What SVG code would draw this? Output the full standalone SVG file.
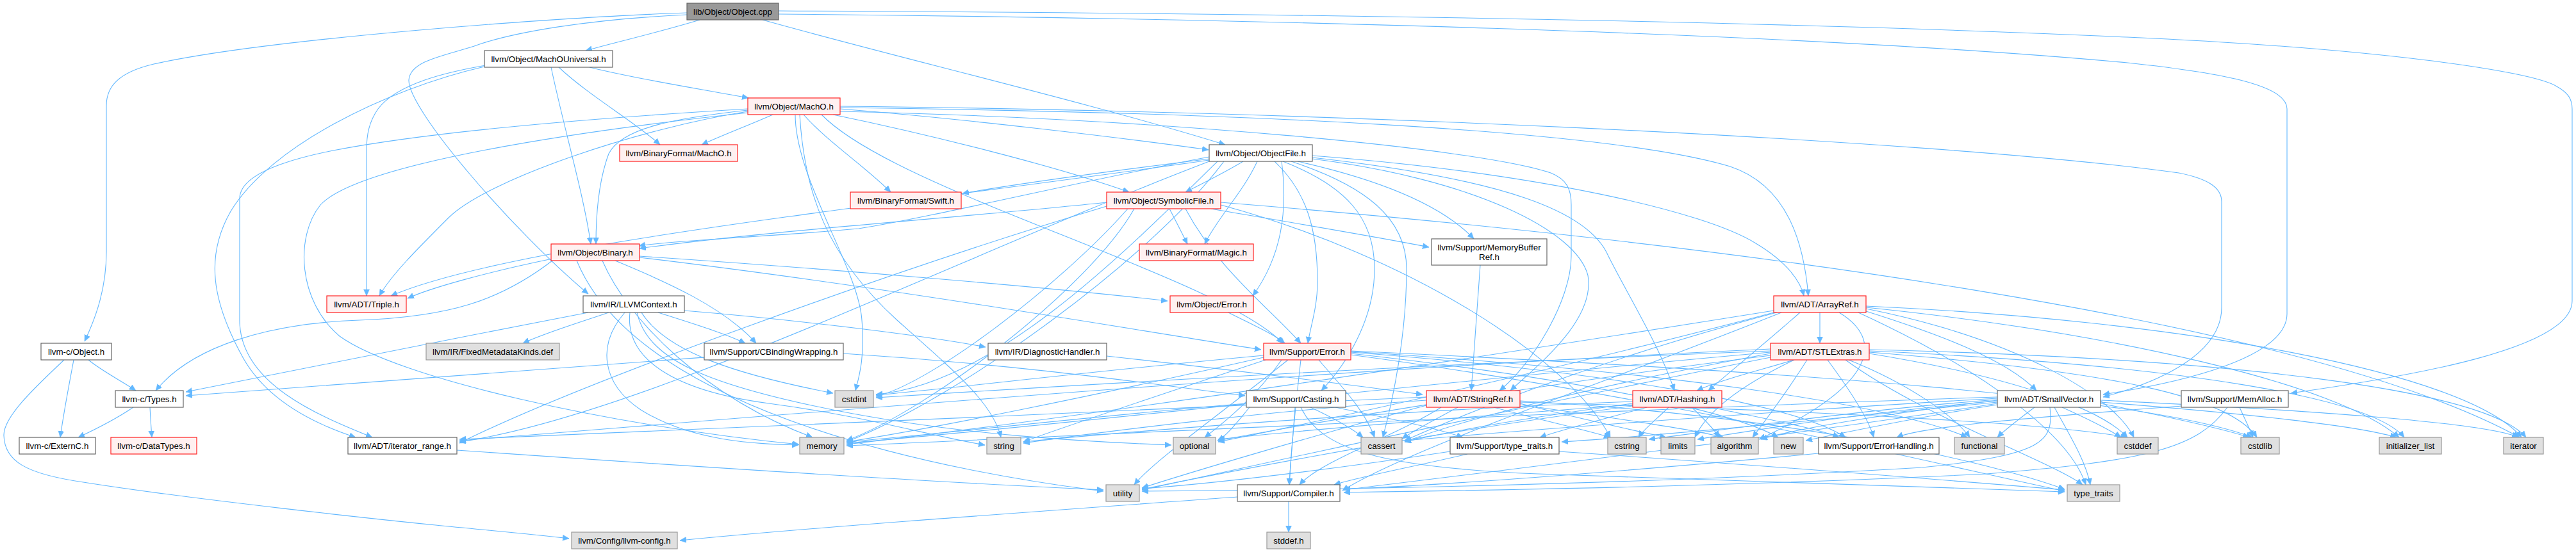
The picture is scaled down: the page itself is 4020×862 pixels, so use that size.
<svg xmlns="http://www.w3.org/2000/svg" width="4020" height="862" viewBox="0 0 4020 862">
<style>
#edges path{fill:none;stroke:#63b8ff;stroke-width:1.1;marker-end:url(#ah)}
.n rect{stroke-width:1.2}
.g rect{fill:#e0e0e0;stroke:#999999}
.w rect{fill:#ffffff;stroke:#666666}
.r rect{fill:#fff0f0;stroke:#ff2222}
.root rect{fill:#999999;stroke:#666666}
.n text{font-family:"Liberation Sans",Arial,sans-serif;font-size:13.33px;text-anchor:middle;fill:#000}
</style>
<defs>
<marker id="ah" markerWidth="11" markerHeight="10" refX="10" refY="4.5" orient="auto" markerUnits="userSpaceOnUse"><path d="M0,0 L10,4.5 L0,9 z" fill="#63b8ff" stroke="#63b8ff" stroke-width="0.5"/></marker>
</defs>
<rect width="4020" height="862" fill="#ffffff"/>
<g id="edges">
<path d="M1072,20 C880,26 420,60 240,100 C185,113 166,135 166,165 L166,393 C166,450 150,495 132,533"/>
<path d="M1072,23 C920,30 800,50 740,72 C690,88 640,95 638,125 C636,170 800,360 918,459"/>
<path d="M1092,31 C1030,50 960,66 914,79"/>
<path d="M1190,31 C1400,90 1700,160 1912,226"/>
<path d="M1215,22 C1900,28 2800,50 3320,98 C3480,115 3569,135 3569,170 L3569,490 C3569,560 3400,598 3282,616"/>
<path d="M1215,17 C1900,20 2700,30 3320,58 C3700,75 3950,110 3990,135 C4008,145 4014,155 4014,170 L4014,470 C4014,545 3760,588 3575,614"/>
<path d="M920,105 C1000,125 1100,140 1168,153"/>
<path d="M872,105 C920,150 990,190 1030,226"/>
<path d="M860,105 C880,200 910,300 922,381"/>
<path d="M758,102 C700,112 620,130 590,170 C576,190 572,210 572,235 L572,462"/>
<path d="M756,104 C600,140 420,230 360,330 C320,400 330,470 380,560 C420,630 500,665 555,683"/>
<path d="M1206,179 C1170,195 1130,210 1095,226"/>
<path d="M1167,172 C1050,185 970,200 950,240 C935,280 930,330 930,381"/>
<path d="M1167,174 C1000,200 760,280 700,340 C650,390 610,430 592,462"/>
<path d="M1167,170 C1000,180 700,200 520,235 C420,255 374,280 374,310 L374,500 C374,600 500,650 581,683"/>
<path d="M1167,176 C900,205 560,255 500,320 C460,370 465,470 530,525 C620,590 950,665 1247,694"/>
<path d="M1254,179 C1290,220 1350,260 1390,300"/>
<path d="M1311,170 C1500,185 1750,215 1886,234"/>
<path d="M1300,179 C1450,210 1650,260 1762,300"/>
<path d="M1311,168 C1900,175 2500,200 2700,260 C2790,290 2815,380 2822,462"/>
<path d="M1311,166 C2000,172 3000,215 3400,270 C3450,280 3467,295 3467,315 L3467,480 C3467,560 3350,602 3282,620"/>
<path d="M1311,174 C1800,185 2300,230 2420,270 C2445,280 2452,295 2452,320 L2452,400 C2452,470 2390,570 2340,610"/>
<path d="M1282,179 C1400,300 1900,430 2002,536"/>
<path d="M1241,179 C1241,280 1340,420 1345,500 C1350,560 1340,590 1335,610"/>
<path d="M1248,179 C1255,300 1290,400 1400,500 C1490,580 1550,630 1562,683"/>
<path d="M1940,252 C1910,270 1880,285 1850,300"/>
<path d="M1962,252 C1940,300 1900,340 1880,381"/>
<path d="M1888,248 C1750,265 1600,285 1502,302"/>
<path d="M1887,245 C1700,280 1450,340 1340,357 C1200,370 1050,375 997,384"/>
<path d="M2025,252 C2150,280 2250,320 2300,373"/>
<path d="M1887,250 C1400,320 800,380 610,462"/>
<path d="M2000,252 C2010,330 2000,400 1955,462"/>
<path d="M2048,243 C2400,270 2660,330 2740,380 C2790,410 2810,440 2815,462"/>
<path d="M1989,252 C2040,300 2056,360 2056,440 C2056,480 2045,510 2041,536"/>
<path d="M2002,252 C2100,290 2145,340 2145,420 C2145,500 2100,570 2062,610"/>
<path d="M2048,248 C2300,280 2460,360 2478,430 C2490,500 2400,570 2357,610"/>
<path d="M2048,246 C2350,280 2480,330 2510,400 C2540,460 2590,540 2613,610"/>
<path d="M1900,252 C1750,400 1550,600 1367,616"/>
<path d="M1887,252 C1500,400 1000,650 717,690"/>
<path d="M1910,252 C1800,400 1500,620 1321,690"/>
<path d="M2015,252 C2130,290 2195,340 2195,420 C2195,520 2175,620 2158,683"/>
<path d="M1825,326 C1835,345 1845,365 1853,381"/>
<path d="M1727,316 C1500,340 1200,360 998,388"/>
<path d="M1850,326 C1900,420 1980,480 2030,536"/>
<path d="M1890,326 C2000,345 2150,370 2230,386"/>
<path d="M1727,322 C1400,420 900,600 717,692"/>
<path d="M1760,326 C1650,450 1450,600 1367,619"/>
<path d="M1905,320 C2200,400 2450,560 2513,683"/>
<path d="M1905,316 C2700,380 3600,500 3932,683"/>
<path d="M1770,326 C1700,450 1450,640 1321,688"/>
<path d="M862,407 C780,470 700,495 560,500 C420,505 300,540 243,610"/>
<path d="M862,404 C760,425 670,450 636,466"/>
<path d="M998,400 C1300,420 1650,450 1822,470"/>
<path d="M960,407 C1040,440 1130,480 1180,536"/>
<path d="M998,402 C1400,450 1800,520 1968,546"/>
<path d="M940,407 C980,500 1100,620 1268,683"/>
<path d="M900,407 C1000,650 1500,740 1722,767"/>
<path d="M2310,414 C2305,480 2300,560 2296,610"/>
<path d="M115,562 C108,600 100,640 94,683"/>
<path d="M138,562 C160,580 190,595 212,610"/>
<path d="M100,562 C60,600 5,650 6,680 C7,720 40,740 130,753 C300,780 600,812 680,820 C760,828 830,834 888,841"/>
<path d="M950,488 C900,505 850,520 816,536"/>
<path d="M1027,488 C1080,505 1130,520 1163,536"/>
<path d="M1068,485 C1250,500 1450,525 1538,542"/>
<path d="M918,488 C700,530 450,580 290,612"/>
<path d="M1001,488 C1040,550 1150,585 1300,614"/>
<path d="M975,488 C930,540 940,600 1000,640 C1080,690 1180,693 1246,695"/>
<path d="M983,488 C975,560 1050,610 1200,630 C1350,650 1450,680 1537,695"/>
<path d="M994,488 C1010,560 1100,600 1300,640 C1500,680 1700,690 1828,695"/>
<path d="M1917,488 C1950,505 1985,520 2005,536"/>
<path d="M2840,488 L2840,536"/>
<path d="M2912,486 C3020,520 3130,560 3178,610"/>
<path d="M2809,488 C2750,540 2700,580 2666,610"/>
<path d="M2870,488 C2940,530 2930,600 2745,686"/>
<path d="M2780,488 C2500,600 2200,700 2095,766"/>
<path d="M2780,486 C2500,560 2300,640 2192,688"/>
<path d="M2912,482 C3150,530 3300,620 3330,683"/>
<path d="M2912,480 C3300,520 3650,600 3744,683"/>
<path d="M2912,478 C3400,500 3850,580 3935,683"/>
<path d="M2768,485 C2300,560 1700,650 1321,694"/>
<path d="M2768,488 C2500,560 2100,650 1901,690"/>
<path d="M2900,488 C3100,580 3230,680 3255,757"/>
<path d="M208,636 C180,655 150,670 122,683"/>
<path d="M234,636 C235,655 236,670 237,683"/>
<path d="M1099,558 C800,580 500,600 290,618"/>
<path d="M1316,552 C1600,570 1800,600 1943,618"/>
<path d="M1727,556 C1900,575 2100,600 2220,616"/>
<path d="M2058,562 C2090,600 2130,640 2145,683"/>
<path d="M2030,562 C2020,650 2015,700 2012,757"/>
<path d="M2108,550 C2500,580 2800,630 2880,683"/>
<path d="M1972,555 C1700,580 1500,605 1367,617"/>
<path d="M2108,548 C2800,580 3350,620 3515,683"/>
<path d="M2108,549 C2600,580 2950,630 3070,683"/>
<path d="M1972,558 C1700,620 1450,670 1321,690"/>
<path d="M2108,552 C2450,590 2700,640 2775,683"/>
<path d="M2000,562 C1960,620 1910,660 1880,683"/>
<path d="M1975,562 C1800,620 1650,670 1597,690"/>
<path d="M2108,554 C2600,620 3000,720 3222,767"/>
<path d="M2010,562 C1900,650 1800,720 1770,757"/>
<path d="M2800,562 C2740,580 2680,595 2648,610"/>
<path d="M2852,562 C2880,600 2915,650 2924,683"/>
<path d="M2820,562 C2790,610 2760,650 2735,683"/>
<path d="M2885,562 C2980,600 3050,650 3074,683"/>
<path d="M2763,552 C2500,600 2300,650 2192,690"/>
<path d="M2917,552 C3150,590 3280,640 3320,683"/>
<path d="M2763,548 C2200,570 1700,600 1367,621"/>
<path d="M2917,550 C3300,580 3480,620 3522,683"/>
<path d="M2917,548 C3400,570 3700,620 3752,683"/>
<path d="M2917,546 C3500,560 3880,610 3942,683"/>
<path d="M2800,562 C2700,610 2660,650 2645,683"/>
<path d="M2763,550 C2200,600 1600,670 1321,692"/>
<path d="M2763,555 C2400,600 2050,660 1901,688"/>
<path d="M2880,562 C3000,650 3200,720 3250,757"/>
<path d="M2763,558 C2300,650 1900,740 1782,765"/>
<path d="M2763,545 C2000,580 1200,650 717,688"/>
<path d="M2021,636 C2018,680 2014,720 2012,757"/>
<path d="M2084,636 C2150,650 2230,665 2283,683"/>
<path d="M2045,636 C2075,650 2105,665 2127,683"/>
<path d="M1945,630 C1700,650 1450,680 1321,690"/>
<path d="M1950,636 C1930,660 1915,680 1900,688"/>
<path d="M2030,636 C2060,700 2150,730 2400,740 C2800,755 3100,765 3222,768"/>
<path d="M2275,636 C2240,655 2210,670 2188,685"/>
<path d="M2331,636 C2400,655 2470,670 2513,683"/>
<path d="M2372,630 C2450,650 2540,670 2600,683"/>
<path d="M2249,636 C2180,680 2060,720 2028,757"/>
<path d="M2372,632 C2500,650 2640,670 2690,683"/>
<path d="M2372,628 C2800,640 3200,660 3320,683"/>
<path d="M2226,625 C2000,640 1750,670 1597,692"/>
<path d="M2372,626 C2800,650 3100,720 3222,764"/>
<path d="M2226,633 C2050,680 1850,740 1782,762"/>
<path d="M2226,620 C1800,640 1100,670 717,686"/>
<path d="M2670,636 C2760,655 2840,670 2870,683"/>
<path d="M2640,636 C2660,655 2675,670 2683,683"/>
<path d="M2604,636 C2585,655 2565,670 2557,683"/>
<path d="M2570,636 C2500,655 2440,670 2403,683"/>
<path d="M2548,630 C2400,650 2280,670 2192,690"/>
<path d="M2548,632 C2300,650 2050,670 1901,686"/>
<path d="M2548,627 C2200,640 1800,670 1597,690"/>
<path d="M2548,634 C2200,680 1900,740 1782,764"/>
<path d="M3175,636 C3150,655 3130,670 3117,683"/>
<path d="M3218,636 C3260,655 3290,670 3310,683"/>
<path d="M3206,636 C3230,680 3255,720 3262,757"/>
<path d="M3278,630 C3380,650 3470,670 3510,683"/>
<path d="M3278,628 C3500,645 3680,665 3740,683"/>
<path d="M3278,625 C3600,640 3880,660 3930,683"/>
<path d="M3117,630 C2800,680 2300,740 2097,765"/>
<path d="M3117,628 C2900,650 2600,680 2437,690"/>
<path d="M3117,625 C2950,645 2800,670 2748,686"/>
<path d="M3117,622 C2800,640 2400,670 2192,688"/>
<path d="M3117,624 C2900,640 2700,670 2573,686"/>
<path d="M3117,626 C2900,645 2750,670 2649,686"/>
<path d="M3117,620 C2500,640 1700,680 1321,696"/>
<path d="M3117,632 C3000,650 2880,675 2818,688"/>
<path d="M3199,636 C3205,690 3190,710 3000,730 C2500,760 2000,765 1782,767"/>
<path d="M3495,636 C3502,652 3510,668 3516,683"/>
<path d="M3404,634 C3200,650 3000,665 2960,683"/>
<path d="M3476,636 C3430,700 3350,720 3100,740 C2700,760 2300,766 2097,769"/>
<path d="M713,703 C1100,730 1500,755 1722,765"/>
<path d="M2290,709 C2200,730 2120,745 2082,757"/>
<path d="M2433,705 C2800,730 3100,755 3222,765"/>
<path d="M2263,705 C2100,730 1900,755 1782,763"/>
<path d="M2838,708 C2600,730 2300,755 2097,764"/>
<path d="M2011,783 L2011,831"/>
<path d="M1931,776 C1600,800 1250,825 1061,844"/>
</g>
<g id="n0" class="n root"><rect x="1072" y="5" width="143" height="26"/><text x="1143.5" y="23">lib/Object/Object.cpp</text></g>
<g id="n1" class="n w"><rect x="756" y="79" width="200" height="26"/><text x="856" y="97">llvm/Object/MachOUniversal.h</text></g>
<g id="n2" class="n r"><rect x="1167" y="153" width="144" height="26"/><text x="1239" y="171">llvm/Object/MachO.h</text></g>
<g id="n3" class="n r"><rect x="967" y="226" width="184" height="26"/><text x="1059" y="244">llvm/BinaryFormat/MachO.h</text></g>
<g id="n4" class="n w"><rect x="1887" y="226" width="161" height="26"/><text x="1967.5" y="244">llvm/Object/ObjectFile.h</text></g>
<g id="n5" class="n r"><rect x="1327" y="300" width="173" height="26"/><text x="1413.5" y="318">llvm/BinaryFormat/Swift.h</text></g>
<g id="n6" class="n r"><rect x="1727" y="300" width="178" height="26"/><text x="1816" y="318">llvm/Object/SymbolicFile.h</text></g>
<g id="n7" class="n r"><rect x="860" y="381" width="138" height="26"/><text x="929" y="399">llvm/Object/Binary.h</text></g>
<g id="n8" class="n r"><rect x="1778" y="381" width="178" height="26"/><text x="1867" y="399">llvm/BinaryFormat/Magic.h</text></g>
<g id="n9" class="n w"><rect x="2234" y="373" width="180" height="41"/><text x="2324" y="391">llvm/Support/MemoryBuffer</text><text x="2324" y="406">Ref.h</text></g>
<g id="n10" class="n w"><rect x="64" y="536" width="110" height="26"/><text x="119" y="554">llvm-c/Object.h</text></g>
<g id="n11" class="n r"><rect x="510" y="462" width="124" height="26"/><text x="572" y="480">llvm/ADT/Triple.h</text></g>
<g id="n12" class="n w"><rect x="910" y="462" width="158" height="26"/><text x="989" y="480">llvm/IR/LLVMContext.h</text></g>
<g id="n13" class="n r"><rect x="1826" y="462" width="130" height="26"/><text x="1891" y="480">llvm/Object/Error.h</text></g>
<g id="n14" class="n r"><rect x="2768" y="462" width="144" height="26"/><text x="2840" y="480">llvm/ADT/ArrayRef.h</text></g>
<g id="n15" class="n w"><rect x="180" y="610" width="106" height="26"/><text x="233" y="628">llvm-c/Types.h</text></g>
<g id="n16" class="n g"><rect x="665" y="536" width="208" height="26"/><text x="769" y="554">llvm/IR/FixedMetadataKinds.def</text></g>
<g id="n17" class="n w"><rect x="1099" y="536" width="217" height="26"/><text x="1207.5" y="554">llvm/Support/CBindingWrapping.h</text></g>
<g id="n18" class="n w"><rect x="1542" y="536" width="185" height="26"/><text x="1634.5" y="554">llvm/IR/DiagnosticHandler.h</text></g>
<g id="n19" class="n r"><rect x="1972" y="536" width="136" height="26"/><text x="2040" y="554">llvm/Support/Error.h</text></g>
<g id="n20" class="n r"><rect x="2763" y="536" width="154" height="26"/><text x="2840" y="554">llvm/ADT/STLExtras.h</text></g>
<g id="n21" class="n g"><rect x="1303" y="610" width="60" height="26"/><text x="1333" y="628">cstdint</text></g>
<g id="n22" class="n w"><rect x="1945" y="610" width="155" height="26"/><text x="2022.5" y="628">llvm/Support/Casting.h</text></g>
<g id="n23" class="n r"><rect x="2226" y="610" width="146" height="26"/><text x="2299" y="628">llvm/ADT/StringRef.h</text></g>
<g id="n24" class="n r"><rect x="2548" y="610" width="139" height="26"/><text x="2617.5" y="628">llvm/ADT/Hashing.h</text></g>
<g id="n25" class="n w"><rect x="3117" y="610" width="161" height="26"/><text x="3197.5" y="628">llvm/ADT/SmallVector.h</text></g>
<g id="n26" class="n w"><rect x="3404" y="610" width="167" height="26"/><text x="3487.5" y="628">llvm/Support/MemAlloc.h</text></g>
<g id="n27" class="n w"><rect x="30" y="683" width="119" height="26"/><text x="89.5" y="701">llvm-c/ExternC.h</text></g>
<g id="n28" class="n r"><rect x="173" y="683" width="134" height="26"/><text x="240" y="701">llvm-c/DataTypes.h</text></g>
<g id="n29" class="n w"><rect x="543" y="683" width="170" height="26"/><text x="628" y="701">llvm/ADT/iterator_range.h</text></g>
<g id="n30" class="n g"><rect x="1248" y="683" width="69" height="26"/><text x="1282.5" y="701">memory</text></g>
<g id="n31" class="n g"><rect x="1540" y="683" width="53" height="26"/><text x="1566.5" y="701">string</text></g>
<g id="n32" class="n g"><rect x="1831" y="683" width="66" height="26"/><text x="1864" y="701">optional</text></g>
<g id="n33" class="n g"><rect x="2124" y="683" width="64" height="26"/><text x="2156" y="701">cassert</text></g>
<g id="n34" class="n w"><rect x="2263" y="683" width="170" height="26"/><text x="2348" y="701">llvm/Support/type_traits.h</text></g>
<g id="n35" class="n g"><rect x="2509" y="683" width="60" height="26"/><text x="2539" y="701">cstring</text></g>
<g id="n36" class="n g"><rect x="2592" y="683" width="53" height="26"/><text x="2618.5" y="701">limits</text></g>
<g id="n37" class="n g"><rect x="2670" y="683" width="74" height="26"/><text x="2707" y="701">algorithm</text></g>
<g id="n38" class="n g"><rect x="2768" y="683" width="46" height="26"/><text x="2791" y="701">new</text></g>
<g id="n39" class="n w"><rect x="2838" y="683" width="188" height="26"/><text x="2932" y="701">llvm/Support/ErrorHandling.h</text></g>
<g id="n40" class="n g"><rect x="3050" y="683" width="78" height="26"/><text x="3089" y="701">functional</text></g>
<g id="n41" class="n g"><rect x="3304" y="683" width="64" height="26"/><text x="3336" y="701">cstddef</text></g>
<g id="n42" class="n g"><rect x="3497" y="683" width="60" height="26"/><text x="3527" y="701">cstdlib</text></g>
<g id="n43" class="n g"><rect x="3713" y="683" width="97" height="26"/><text x="3761.5" y="701">initializer_list</text></g>
<g id="n44" class="n g"><rect x="3907" y="683" width="62" height="26"/><text x="3938" y="701">iterator</text></g>
<g id="n45" class="n g"><rect x="1726" y="757" width="52" height="26"/><text x="1752" y="775">utility</text></g>
<g id="n46" class="n w"><rect x="1931" y="757" width="160" height="26"/><text x="2011" y="775">llvm/Support/Compiler.h</text></g>
<g id="n47" class="n g"><rect x="3226" y="757" width="82" height="26"/><text x="3267" y="775">type_traits</text></g>
<g id="n48" class="n g"><rect x="892" y="831" width="165" height="26"/><text x="974.5" y="849">llvm/Config/llvm-config.h</text></g>
<g id="n49" class="n g"><rect x="1977" y="831" width="68" height="26"/><text x="2011" y="849">stddef.h</text></g>
</svg>
